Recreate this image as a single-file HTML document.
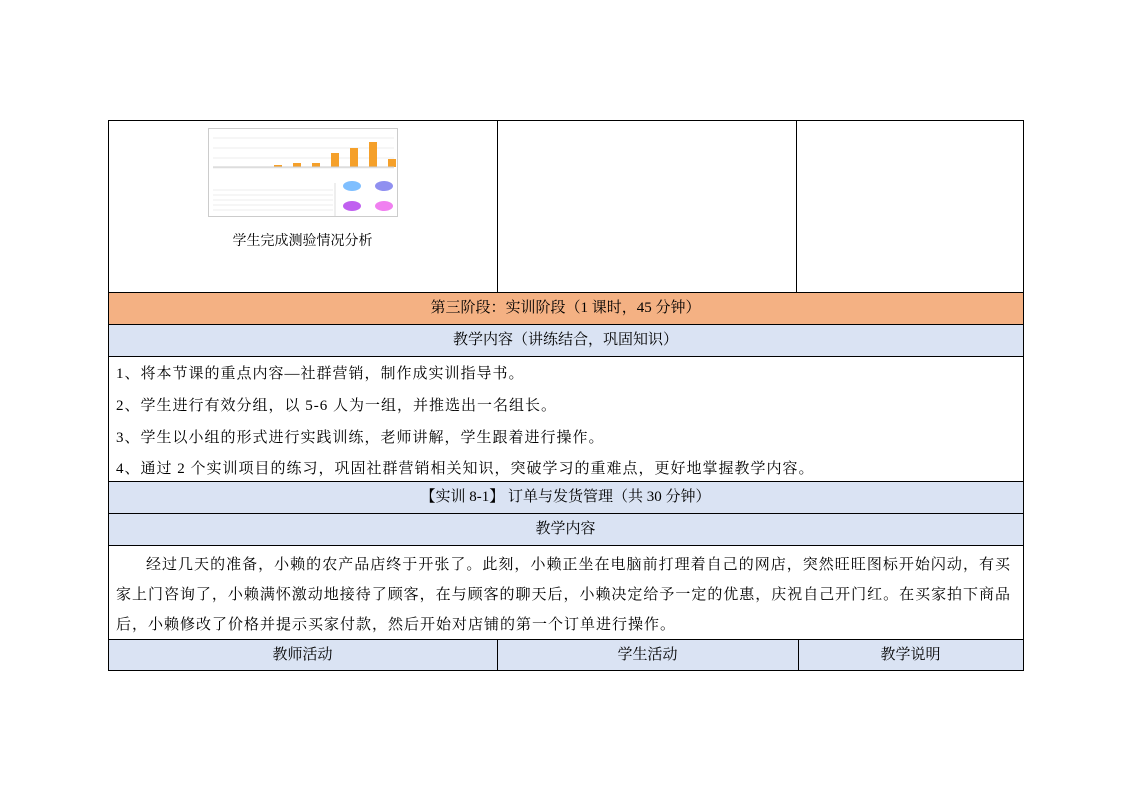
<!DOCTYPE html>
<html><head><meta charset="utf-8"><style>
body{margin:0;width:1122px;height:793px;background:#fff;position:relative;font-family:"Liberation Serif","Noto Serif CJK SC",serif;font-size:14px;color:#000;overflow:hidden}
.b{position:absolute;box-sizing:border-box}
.c{position:absolute;text-align:center;line-height:32px}
.l{position:absolute;left:116px;font-size:15px;letter-spacing:1px;white-space:nowrap}
.j{position:absolute;left:116px;width:894px;font-size:15px;text-align:justify;text-align-last:justify;white-space:nowrap}
.h{position:absolute;background:#000}
</style></head><body>
<div class="b" style="left:108px;top:292px;width:915px;height:32px;background:#f4b183"></div>
<div class="b" style="left:108px;top:324px;width:915px;height:32px;background:#dae3f3"></div>
<div class="b" style="left:108px;top:481px;width:915px;height:64px;background:#dae3f3"></div>
<div class="b" style="left:108px;top:639px;width:915px;height:32px;background:#dae3f3"></div>
<div class="h" style="left:108px;top:120px;width:916px;height:1px"></div>
<div class="h" style="left:108px;top:292px;width:916px;height:1px"></div>
<div class="h" style="left:108px;top:324px;width:916px;height:1px"></div>
<div class="h" style="left:108px;top:356px;width:916px;height:1px"></div>
<div class="h" style="left:108px;top:481px;width:916px;height:1px"></div>
<div class="h" style="left:108px;top:513px;width:916px;height:1px"></div>
<div class="h" style="left:108px;top:545px;width:916px;height:1px"></div>
<div class="h" style="left:108px;top:639px;width:916px;height:1px"></div>
<div class="h" style="left:108px;top:670px;width:916px;height:1px"></div>
<div class="h" style="left:108px;top:120px;width:1px;height:551px"></div>
<div class="h" style="left:1023px;top:120px;width:1px;height:551px"></div>
<div class="h" style="left:497px;top:120px;width:1px;height:172px"></div>
<div class="h" style="left:796px;top:120px;width:1px;height:172px"></div>
<div class="h" style="left:497px;top:639px;width:1px;height:32px"></div>
<div class="h" style="left:798px;top:639px;width:1px;height:32px"></div>
<svg style="position:absolute;left:208px;top:128px" width="190" height="89" viewBox="0 0 190 89">
<rect x="0.5" y="0.5" width="189" height="88" fill="#fff" stroke="#ccc"/>
<g stroke="#eee"><line x1="5" y1="10" x2="186" y2="10"/><line x1="5" y1="20" x2="186" y2="20"/><line x1="5" y1="30" x2="186" y2="30"/><line x1="5" y1="40" x2="186" y2="40"/></g>
<g fill="#f5a02a"><rect x="66" y="37" width="8" height="2"/><rect x="85" y="35" width="8" height="4"/><rect x="104" y="35" width="8" height="4"/><rect x="123" y="25" width="8" height="14"/><rect x="142" y="20" width="8" height="19"/><rect x="161" y="14" width="8" height="25"/><rect x="180" y="31" width="8" height="8"/></g>
<line x1="5" y1="39" x2="186" y2="39" stroke="#ccc"/>
<line x1="127" y1="55" x2="127" y2="88" stroke="#ddd"/>
<g stroke="#eee"><line x1="5" y1="62" x2="125" y2="62"/><line x1="5" y1="67" x2="125" y2="67"/><line x1="5" y1="72" x2="125" y2="72"/><line x1="5" y1="77" x2="125" y2="77"/><line x1="5" y1="82" x2="125" y2="82"/></g>
<ellipse cx="144" cy="58" rx="9" ry="5" fill="#7fbfff"/><ellipse cx="176" cy="58" rx="9" ry="5" fill="#9090f0"/>
<ellipse cx="144" cy="78" rx="9" ry="5" fill="#c060f0"/><ellipse cx="176" cy="78" rx="9" ry="5" fill="#f080f0"/>
</svg>
<div class="c" style="left:108px;width:389px;top:226px">学生完成测验情况分析</div>
<div class="c" style="left:108px;width:915px;top:292px;font-size:15px">第三阶段：实训阶段（1 课时，45 分钟）</div>
<div class="c" style="left:108px;width:915px;top:324px;font-size:15px">教学内容（讲练结合，巩固知识）</div>
<div class="l" style="top:362px">1、将本节课的重点内容—社群营销，制作成实训指导书。</div>
<div class="l" style="top:394px">2、学生进行有效分组，以 5-6 人为一组，并推选出一名组长。</div>
<div class="l" style="top:426px">3、学生以小组的形式进行实践训练，老师讲解，学生跟着进行操作。</div>
<div class="l" style="top:457px">4、通过 2 个实训项目的练习，巩固社群营销相关知识，突破学习的重难点，更好地掌握教学内容。</div>
<div class="c" style="left:108px;width:915px;top:481px;font-size:15px">【实训 8-1】 订单与发货管理（共 30 分钟）</div>
<div class="c" style="left:108px;width:915px;top:513px;font-size:15px">教学内容</div>
<div class="j" style="top:553px;left:146px;width:864px">经过几天的准备，小赖的农产品店终于开张了。此刻，小赖正坐在电脑前打理着自己的网店，突然旺旺图标开始闪动，有买</div>
<div class="j" style="top:583px">家上门咨询了，小赖满怀激动地接待了顾客，在与顾客的聊天后，小赖决定给予一定的优惠，庆祝自己开门红。在买家拍下商品</div>
<div class="l" style="top:613px">后，小赖修改了价格并提示买家付款，然后开始对店铺的第一个订单进行操作。</div>
<div class="c" style="left:108px;width:389px;top:639px;font-size:15px">教师活动</div>
<div class="c" style="left:497px;width:301px;top:639px;font-size:15px">学生活动</div>
<div class="c" style="left:798px;width:225px;top:639px;font-size:15px">教学说明</div>
</body></html>
